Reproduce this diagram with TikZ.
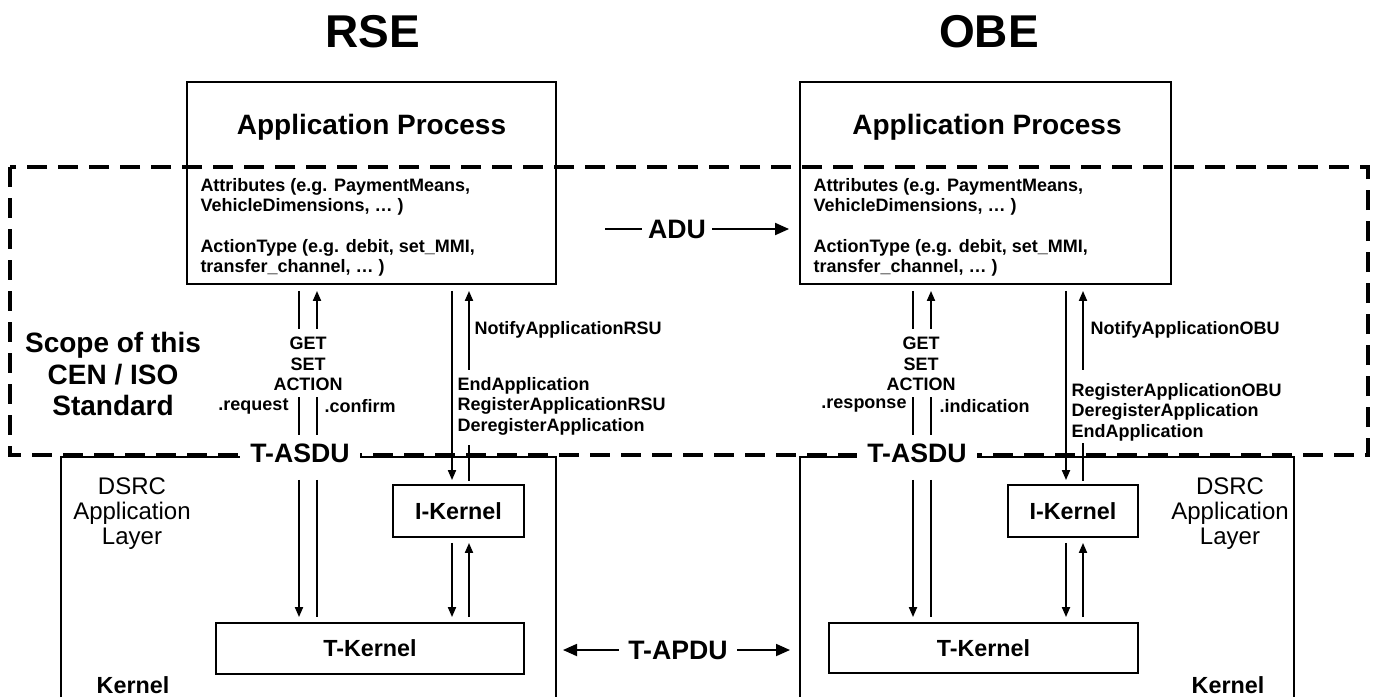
\documentclass[tikz,border=0pt]{standalone}
\usepackage{fontspec}
\setmainfont{Liberation Sans}
\usetikzlibrary{arrows.meta}

\tikzset{every picture/.style={line width=0.75pt}}
\tikzset{
  frame/.style={line width=1.4pt},
  box/.style={draw, line width=1.4pt, inner sep=0pt},
  link/.style={line width=1.4pt},
  arr/.style={link, -{Triangle[length=7.5pt,width=6pt]}},
  bigarr/.style={link, -{Triangle[length=10.5pt,width=9pt]}},
  scopeline/.style={line width=2.8pt, dash pattern=on 15pt off 8.25pt},
  head/.style={inner sep=0pt, font=\fontsize{34.5}{40}\selectfont\bfseries},
  title/.style={inner sep=0pt, font=\fontsize{21}{25}\selectfont\bfseries},
  lbl/.style={inner sep=0pt, font=\fontsize{13.5}{15.4}\selectfont\bfseries},
  pdu/.style={inner xsep=4.5pt, inner ysep=0pt, font=\fontsize{20}{24}\selectfont\bfseries},
  kern/.style={inner sep=0pt, font=\fontsize{17.5}{21}\selectfont\bfseries},
  layer/.style={align=center, inner sep=0pt, font=\fontsize{18}{18.75}\selectfont},
}

\begin{document}
\begin{tikzpicture}[x=0.75pt,y=0.75pt,yscale=-1,xscale=1]
	\useasboundingbox (0,0) rectangle (1377,697);
	
	%Shape: Dashed Rectangle
	\draw [scopeline] (10,167) rectangle (1368,455);
	
	%Shape: Open frames of the application layers
	\coordinate (rselayer) at (556,457);
	\coordinate (obelayer) at (800,457);
	\draw [frame] (61,697) |- (rselayer) -- (556,697);
	\draw [frame] (800,697) -- (obelayer) -| (1294,697);
	
	%Shape: Rectangle
	\draw (371.5,183) node [box, minimum width=276.75pt, minimum height=151.5pt] (rseapp) {};
	%Shape: Rectangle
	\draw (985.5,183) node [box, minimum width=278.25pt, minimum height=151.5pt] (obeapp) {};
	%Shape: Rectangle
	\draw (458.5,511) node [box, kern, minimum width=98.25pt, minimum height=39pt] (rseik) {I-Kernel};
	%Shape: Rectangle
	\draw (370,648.5) node [box, kern, minimum width=231pt, minimum height=38.25pt] (rsetk) {T-Kernel};
	%Shape: Rectangle
	\draw (1073,511) node [box, kern, minimum width=97.5pt, minimum height=39pt] (obeik) {I-Kernel};
	%Shape: Rectangle
	\draw (983.5,648) node [box, kern, minimum width=231.75pt, minimum height=37.5pt] (obetk) {T-Kernel};
	
	% Text Node
	\draw (373,32) node [head] (rsehead) {RSE};
	% Text Node
	\draw (989,32) node [head] (obehead) {OBE};
	% Text Node
	\draw (371.5,127) node [title] (rsetitle) {Application Process};
	% Text Node
	\draw (987,127) node [title] (obetitle) {Application Process};
	% Text Node
	\draw (200,197) node [lbl, anchor=west, align=left] (rseattr) {Attributes (e.g. PaymentMeans,\\VehicleDimensions, … )};
	% Text Node
	\draw (200,258) node [lbl, anchor=west, align=left] (rseact) {ActionType (e.g. debit, set\_MMI,\\transfer\_channel, … )};
	% Text Node
	\draw (813,197) node [lbl, anchor=west, align=left] (obeattr) {Attributes (e.g. PaymentMeans,\\VehicleDimensions, … )};
	% Text Node
	\draw (813,258) node [lbl, anchor=west, align=left] (obeact) {ActionType (e.g. debit, set\_MMI,\\transfer\_channel, … )};
	% Text Node
	\draw (113,374) node [inner sep=0pt, align=center, font=\fontsize{21}{23.6}\selectfont\bfseries] (scopetext) {Scope of this\\CEN / ISO\\Standard};
	% Text Node
	\draw (308,364) node [lbl, align=center] (rseops) {GET\\SET\\ACTION};
	% Text Node
	\draw (289,406) node [lbl, anchor=east] (rsereq) {.request};
	% Text Node
	\draw (324,406) node [lbl, anchor=west] (rsecnf) {.confirm};
	% Text Node
	\draw (921,364) node [lbl, align=center] (obeops) {GET\\SET\\ACTION};
	% Text Node
	\draw (907,406) node [lbl, anchor=east] (obersp) {.response};
	% Text Node
	\draw (939,406) node [lbl, anchor=west] (obeind) {.indication};
	% Text Node
	\draw (474,330) node [lbl, anchor=west] (rsenotify) {NotifyApplicationRSU};
	% Text Node
	\draw (1090,330) node [lbl, anchor=west] (obenotify) {NotifyApplicationOBU};
	% Text Node
	\draw (457,406) node [lbl, anchor=west, align=left] (rselist) {EndApplication\\RegisterApplicationRSU\\DeregisterApplication};
	% Text Node
	\draw (1071,412) node [lbl, anchor=west, align=left] (obelist) {RegisterApplicationOBU\\DeregisterApplication\\EndApplication};
	% Text Node
	\draw (132,514) node [layer] (rselayertext) {DSRC\\Application\\Layer};
	% Text Node
	\draw (1230,514) node [layer] (obelayertext) {DSRC\\Application\\Layer};
	% Text Node
	\draw (133,685) node [kern] (rsekernel) {Kernel};
	% Text Node
	\draw (1228,685) node [kern] (obekernel) {Kernel};
	% Text Node
	\draw (300,453) node [pdu, fill=white, inner xsep=7.5pt, inner ysep=1.5pt] (rseasdu) {T-ASDU};
	% Text Node
	\draw (917,453) node [pdu, fill=white, inner xsep=7.5pt, inner ysep=1.5pt] (obeasdu) {T-ASDU};
	
	%Straight Lines: ADU
	\draw (677,229) node [pdu] (adu) {ADU};
	\coordinate (adutail) at (605,229);
	\draw [link] (adutail) -- (adu.west);
	\draw [bigarr, shorten >=7.5pt] (adu.east) -- (obeapp.west |- adu);
	
	%Straight Lines: T-APDU
	\draw (678,650) node [pdu, inner xsep=6.75pt] (tapdu) {T-APDU};
	\draw [bigarr, shorten >=5.25pt] (tapdu.west) -- (rselayer |- tapdu);
	\draw [bigarr, shorten >=7.5pt] (tapdu.east) -- (obelayer |- tapdu);
	
	% columns of the service primitives
	\coordinate (rsea) at (299,0);
	\coordinate (rseb) at (317,0);
	\coordinate (rsec) at (452,0);
	\coordinate (rsed) at (469,0);
	\coordinate (obea) at (913,0);
	\coordinate (obeb) at (931,0);
	\coordinate (obec) at (1066,0);
	\coordinate (obed) at (1083,0);
	
	%Straight Lines: RSE GET / SET / ACTION
	\draw [link, shorten <=4.5pt, shorten >=6pt] (rsea |- rseapp.south) -- (rsea |- rseops.north);
	\draw [arr, shorten <=6pt, shorten >=4.5pt] (rseb |- rseops.north) -- (rseb |- rseapp.south);
	\draw [link, shorten <=4.5pt, shorten >=4.5pt] (rsea |- rseops.south) -- (rsea |- rseasdu.north);
	\draw [link, shorten <=4.5pt, shorten >=4.5pt] (rseb |- rseops.south) -- (rseb |- rseasdu.north);
	\draw [arr, shorten <=11.25pt, shorten >=3.75pt] (rsea |- rseasdu.south) -- (rsea |- rsetk.north);
	\draw [link, shorten <=11.25pt, shorten >=3.75pt] (rseb |- rseasdu.south) -- (rseb |- rsetk.north);
	%Straight Lines: RSE I-Kernel services
	\draw [arr, shorten <=4.5pt, shorten >=3pt] (rsec |- rseapp.south) -- (rsec |- rseik.north);
	\draw [arr, shorten <=5.25pt, shorten >=4.5pt] (rsed |- rselist.north) -- (rsed |- rseapp.south);
	\draw [link, shorten <=7.5pt, shorten >=2.25pt] (rsed |- rselist.south) -- (rsed |- rseik.north);
	\draw [arr, shorten <=3.75pt, shorten >=3.75pt] (rsec |- rseik.south) -- (rsec |- rsetk.north);
	\draw [arr, shorten <=3.75pt, shorten >=3.75pt] (rsed |- rsetk.north) -- (rsed |- rseik.south);
	
	%Straight Lines: OBE GET / SET / ACTION
	\draw [link, shorten <=4.5pt, shorten >=6pt] (obea |- obeapp.south) -- (obea |- obeops.north);
	\draw [arr, shorten <=6pt, shorten >=4.5pt] (obeb |- obeops.north) -- (obeb |- obeapp.south);
	\draw [link, shorten <=4.5pt, shorten >=4.5pt] (obea |- obeops.south) -- (obea |- obeasdu.north);
	\draw [link, shorten <=4.5pt, shorten >=4.5pt] (obeb |- obeops.south) -- (obeb |- obeasdu.north);
	\draw [arr, shorten <=11.25pt, shorten >=3.75pt] (obea |- obeasdu.south) -- (obea |- obetk.north);
	\draw [link, shorten <=11.25pt, shorten >=3.75pt] (obeb |- obeasdu.south) -- (obeb |- obetk.north);
	%Straight Lines: OBE I-Kernel services
	\draw [arr, shorten <=4.5pt, shorten >=3pt] (obec |- obeapp.south) -- (obec |- obeik.north);
	\draw [arr, shorten <=9.75pt, shorten >=4.5pt] (obed |- obelist.north) -- (obed |- obeapp.south);
	\draw [link, shorten <=1.5pt, shorten >=2.25pt] (obed |- obelist.south) -- (obed |- obeik.north);
	\draw [arr, shorten <=3.75pt, shorten >=3.75pt] (obec |- obeik.south) -- (obec |- obetk.north);
	\draw [arr, shorten <=3.75pt, shorten >=3.75pt] (obed |- obetk.north) -- (obed |- obeik.south);
	
\end{tikzpicture}
\end{document}
